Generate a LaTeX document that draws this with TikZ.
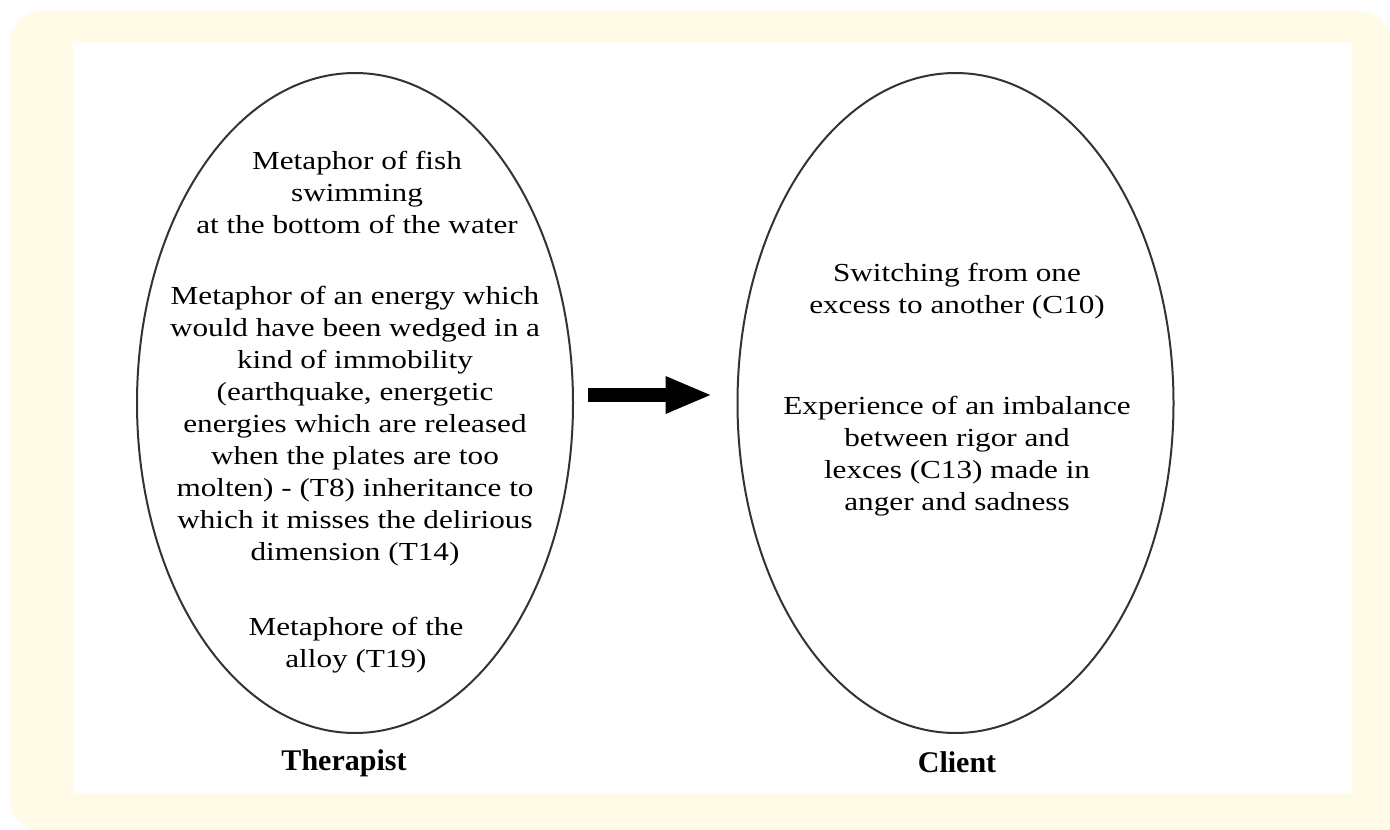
\documentclass[tikz,border=0pt]{standalone}
\usepackage{fontspec}
\setmainfont{Liberation Serif}
\newfontfamily\bodyfont[FakeStretch=1.2]{Liberation Serif}
\usetikzlibrary{shapes.geometric,arrows.meta}
\definecolor{cream}{HTML}{FFFBE6}
\definecolor{rim}{HTML}{333333}
\tikzset{
  oval/.style={ellipse, draw=rim, line width=2pt, fill=white, inner sep=0pt,
    minimum width=436pt, minimum height=660pt},
  body/.style={align=center, anchor=base, inner sep=0pt,
    font=\bodyfont\fontsize{26}{32}\selectfont},
  title/.style={anchor=base, inner sep=0pt, font=\bfseries\fontsize{30}{34}\selectfont},
  bigarrow/.style={line width=14pt, -{Triangle[length=47pt,width=34pt]}}
}
\begin{document}
\begin{tikzpicture}[x=1pt,y=-1pt]
\useasboundingbox (0,0) rectangle (1390,830);
\fill[cream, rounded corners=30pt] (10,11) rectangle (1390,830);
\fill[cream] (1300,700) rectangle (1390,830);
\fill[white] (73,43) rectangle (1352,793);

\node[oval] (L) at (355,403) {};
\node[oval] (R) at (955.5,403) {};

% base anchor = baseline of the last line
\node[body] (t1) at (357,233) {Metaphor of fish\\swimming\\at the bottom of the water};
\node[body] (t2) at (355,560) {Metaphor of an energy which\\would have been wedged in a\\kind of immobility\\(earthquake, energetic\\energies which are released\\when the plates are too\\molten) - (T8) inheritance to\\which it misses the delirious\\dimension (T14)};
\node[body] (t3) at (356,667) {Metaphore of the\\alloy (T19)};

\node[body] (c1) at (957,313) {Switching from one\\excess to another (C10)};
\node[body] (c2) at (957,510) {Experience of an imbalance\\between rigor and\\lexces (C13) made in\\anger and sadness};

\node[title] (ther) at (344,770) {Therapist};
\node[title] (cli) at (957,772) {Client};

\draw[bigarrow, shorten <=14pt, shorten >=24pt] ([yshift=8pt]L.east) -- ([yshift=8pt]R.west);
\end{tikzpicture}
\end{document}
